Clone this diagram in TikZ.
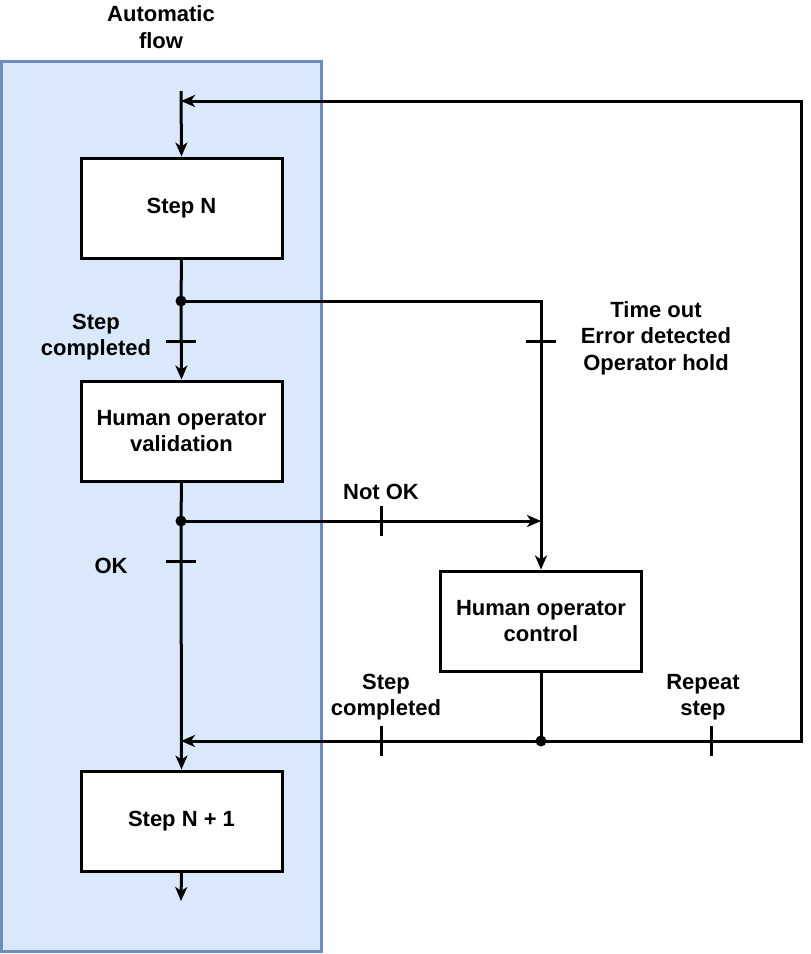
\documentclass[tikz,border=0pt]{standalone}
\usepackage{fontspec}
\setmainfont{Liberation Sans}
\usetikzlibrary{arrows.meta}
\definecolor{flowfill}{HTML}{DAE8FC}
\definecolor{flowline}{HTML}{6C8EBF}
\tikzset{>={Stealth[length=14pt,width=12pt,inset=4pt]}}
\tikzset{stepbox/.style={draw, line width=3pt, fill=white, minimum width=201pt, minimum height=100pt, align=center}}
\tikzset{lbl/.style={align=center}}
\tikzset{dot/.style={circle, fill=black, inner sep=0pt, minimum size=11pt}}

\begin{document}
\begin{tikzpicture}[x=1pt, y=-1pt, line width=3pt, font=\fontsize{22}{26.5}\selectfont\bfseries]

\def \tick {15} % half length of the transition bars

\useasboundingbox (0,0) rectangle (811,954);

% automatic flow lane
\draw[fill=flowfill, draw=flowline] (1.5,61.5) rectangle (321,951);
\node[lbl] (lane) at (161,27) {Automatic\\flow};

  \node[stepbox] (stepn) at (181.5,208) {Step N};
  \node[stepbox] (valid) at (181.5,431) {Human operator\\validation};
  \node[stepbox] (ctrl) at (541,621) {Human operator\\control};
  \node[stepbox] (stepnext) at (181.5,821) {Step N + 1};

\coordinate (top) at (181,91);
\coordinate (out) at (181,901);
\node[dot] (d1) at (181,301) {};
\node[dot] (d2) at (181,521) {};
\node[dot] (d3) at (541,741) {};
\coordinate (c1) at (541,301);
\coordinate (c2) at (541,521);
\coordinate (back) at (181,741);
\coordinate (r1) at (801,741);
\coordinate (r2) at (801,101);
\coordinate (loop) at (181,101);

\draw[->] (top) -- (stepn.north);
\draw (stepn.south) -- (d1.center);
\draw[->] (d1.center) -- (valid.north);
\draw[->] (d1.center) -- (c1) -- (ctrl.north);
\draw (valid.south) -- (d2.center);
\draw[->] (d2.center) -- (stepnext.north);
\draw[->] (d2.center) -- (c2);
\draw (ctrl.south) -- (d3.center);
\draw[->] (d3.center) -- (back);
\draw[->] (d3.center) -- (r1) -- (r2) -- (loop);
\draw[->] (stepnext.south) -- (out);

% transitions
\foreach \x/\y in {181/341, 541/341, 181/561}
  \draw (\x-\tick,\y) -- (\x+\tick,\y);
\foreach \x/\y in {381/521, 381/741, 711/741}
  \draw (\x,\y-\tick) -- (\x,\y+\tick);

\node[lbl] (done1) at (96,337) {Step\\completed};
\node[lbl] (fault) at (656,338) {Time out\\Error detected\\Operator hold};
\node[lbl] (nok) at (381,492) {Not OK};
\node[lbl] (ok) at (111,566) {OK};
\node[lbl] (done2) at (386,697) {Step\\completed};
\node[lbl] (again) at (703,697) {Repeat\\step};

\end{tikzpicture}
\end{document}
